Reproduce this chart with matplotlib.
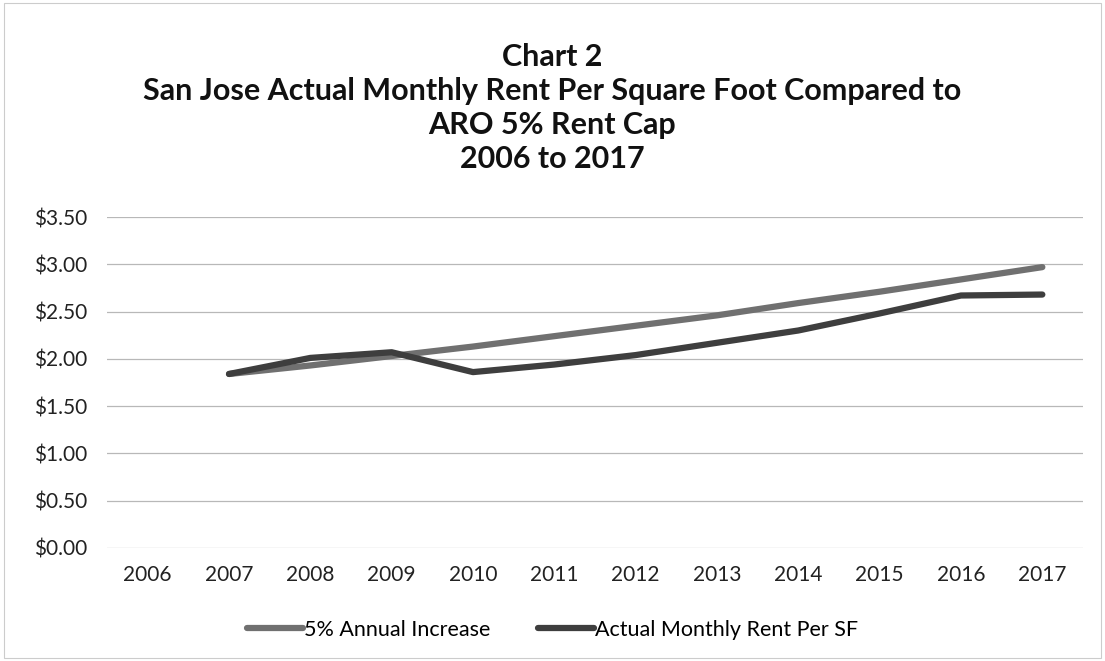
import matplotlib.pyplot as plt

# data
years = ["2006", "2007", "2008", "2009", "2010", "2011", "2012",
         "2013", "2014", "2015", "2016", "2017"]
cap_years = years[1:]
cap_5pct = [1.84, 1.93, 2.03, 2.13, 2.24, 2.35, 2.46, 2.59, 2.71, 2.84, 2.97]
actual = [1.84, 2.01, 2.07, 1.86, 1.94, 2.04, 2.17, 2.30, 2.48, 2.67, 2.68]
yticks = [0, 0.5, 1.0, 1.5, 2.0, 2.5, 3.0, 3.5]

plt.rcParams['font.family'] = ['Lato', 'DejaVu Sans']

fig = plt.figure(figsize=(11.05, 6.61), dpi=100)
ax = fig.add_axes([107 / 1105, 1 - 548 / 661, (1083 - 107) / 1105, (548 - 217) / 661])

x_all = list(range(len(years)))
x_cap = [years.index(y) for y in cap_years]

ax.plot(x_cap, cap_5pct, color="#707070", lw=4.5, solid_capstyle="round",
        label="5% Annual Increase")
ax.plot(x_cap, actual, color="#3e3e3e", lw=4.5, solid_capstyle="round",
        label="Actual Monthly Rent Per SF")

ax.set_xlim(-0.5, len(years) - 0.5)
ax.set_ylim(0, 3.5)
ax.set_xticks(x_all)
ax.set_xticklabels(years, fontsize=15, color="#222222")
ax.set_yticks(yticks)
ax.set_yticklabels(["${:.2f}".format(v) for v in yticks], fontsize=15, color="#222222")
ax.tick_params(length=0, pad=12)
ax.tick_params(axis='y', pad=14)
ax.grid(axis='y', color="#b8b8b8", lw=0.9)
ax.set_axisbelow(True)
for s in ax.spines.values():
    s.set_visible(False)

fig.text(0.5, 1 - 108 / 661, "Chart 2\nSan Jose Actual Monthly Rent Per Square Foot Compared to\n"
         "ARO 5% Rent Cap\n2006 to 2017", ha="center", va="center",
         fontsize=22, fontweight="bold", color="#111111", linespacing=1.25)

fig.legend(loc="center", bbox_to_anchor=(0.5, 1 - 630 / 661), ncol=2, frameon=False,
           fontsize=15.5, handlelength=2.6, handletextpad=0.05, columnspacing=2.2)

# thin outer border like the scanned frame
fig.patches.append(plt.Rectangle((0.004, 0.004), 0.992, 0.992, transform=fig.transFigure,
                                 fill=False, edgecolor="#cccccc", lw=0.8))

fig.savefig("out.png", dpi=100)
